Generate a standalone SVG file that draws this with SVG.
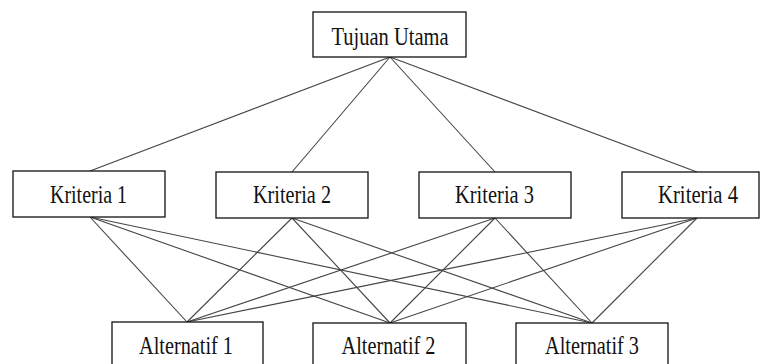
<svg xmlns="http://www.w3.org/2000/svg" width="762" height="364" viewBox="0 0 762 364">
<style>
rect{fill:#fff;stroke:#111;stroke-width:1.3}
text{font-family:"Liberation Serif","Times New Roman",serif;font-size:25px;fill:#111;text-anchor:middle}
#edges line{stroke:#444;stroke-width:1.1}
</style>
<rect x="0" y="0" width="762" height="364" style="stroke:none;fill:#fff"/>
<g id="edges">
<line x1="390" y1="57" x2="90" y2="171"/>
<line x1="390" y1="57" x2="292" y2="172"/>
<line x1="390" y1="57" x2="495" y2="172"/>
<line x1="390" y1="57" x2="697" y2="172"/>
<line x1="90" y1="217" x2="187" y2="322"/>
<line x1="90" y1="217" x2="390" y2="323"/>
<line x1="90" y1="217" x2="592" y2="323"/>
<line x1="292" y1="218" x2="187" y2="322"/>
<line x1="292" y1="218" x2="390" y2="323"/>
<line x1="292" y1="218" x2="592" y2="323"/>
<line x1="495" y1="218" x2="187" y2="322"/>
<line x1="495" y1="218" x2="390" y2="323"/>
<line x1="495" y1="218" x2="592" y2="323"/>
<line x1="697" y1="218" x2="187" y2="322"/>
<line x1="697" y1="218" x2="390" y2="323"/>
<line x1="697" y1="218" x2="592" y2="323"/>
</g>
<g id="tujuan"><rect x="313" y="12" width="153" height="45"/><text x="390" y="45" textLength="117" lengthAdjust="spacingAndGlyphs">Tujuan Utama</text></g>
<g id="k1"><rect x="13" y="171" width="152" height="46"/><text x="88.5" y="203" textLength="77" lengthAdjust="spacingAndGlyphs">Kriteria 1</text></g>
<g id="k2"><rect x="216" y="172" width="152" height="46"/><text x="292" y="203" textLength="78" lengthAdjust="spacingAndGlyphs">Kriteria 2</text></g>
<g id="k3"><rect x="419" y="172" width="152" height="46"/><text x="494.5" y="203" textLength="79" lengthAdjust="spacingAndGlyphs">Kriteria 3</text></g>
<g id="k4"><rect x="622" y="172" width="137" height="46"/><text x="698" y="203" textLength="80" lengthAdjust="spacingAndGlyphs">Kriteria 4</text></g>
<g id="a1"><rect x="112" y="322" width="151" height="50"/><text x="186" y="354" textLength="94" lengthAdjust="spacingAndGlyphs">Alternatif 1</text></g>
<g id="a2"><rect x="313" y="323" width="153" height="50"/><text x="388.5" y="354" textLength="94" lengthAdjust="spacingAndGlyphs">Alternatif 2</text></g>
<g id="a3"><rect x="516" y="323" width="152" height="50"/><text x="592" y="354" textLength="94" lengthAdjust="spacingAndGlyphs">Alternatif 3</text></g>
</svg>
